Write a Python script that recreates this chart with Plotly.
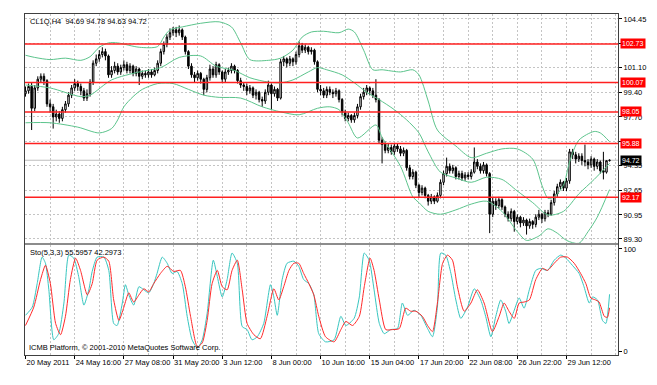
import plotly.graph_objects as go

# ---------------- data ----------------
bar_opens = [99.3,99.5,99.8,98.3,99.7,100.3,100.5,100.2,98.6,98.4,97.7,97.9,97.6,98.2,98.6,99.2,99.7,100.0,99.8,99.5,
 99.0,99.3,100.1,101.4,101.7,102.0,102.2,101.9,100.6,100.9,101.2,100.8,101.1,101.3,100.9,101.2,100.7,101.0,100.5,100.7,
 100.6,100.8,100.6,100.9,101.4,102.2,102.7,103.2,103.5,103.7,103.5,103.7,103.2,102.2,101.2,100.6,100.4,100.7,100.3,99.6,
 100.4,101.0,100.6,101.3,100.8,100.3,100.8,100.9,101.2,100.9,100.2,99.9,99.8,99.5,99.7,99.2,99.4,98.9,98.8,99.4,
 99.9,99.3,99.6,99.0,101.5,101.7,101.4,101.7,101.5,102.0,102.6,102.3,102.5,102.2,102.3,101.5,99.6,99.5,99.2,99.6,
 99.4,99.3,99.5,98.9,98.0,97.6,97.8,97.5,97.8,98.4,99.1,99.4,99.7,99.5,99.2,98.9,96.1,95.8,95.4,95.6,
 95.3,95.7,95.5,95.2,95.4,94.2,93.6,93.9,93.0,92.5,92.8,92.3,91.9,92.2,91.9,92.3,93.2,93.8,94.3,94.0,
 94.2,93.6,93.8,93.5,93.7,93.6,93.9,94.6,94.3,94.0,94.4,93.8,91.0,91.9,91.6,92.0,91.5,91.0,90.7,91.2,
 90.5,90.8,90.4,90.6,90.2,90.5,90.3,90.8,91.0,90.7,91.1,91.0,91.8,92.4,92.9,93.2,92.8,93.3,95.3,95.1,
 94.8,95.0,94.7,94.6,94.4,94.8,94.3,94.6,94.0,93.9,94.69]
bar_closes = [99.5,99.8,98.3,99.7,100.3,100.5,100.2,98.6,98.4,97.7,97.9,97.6,98.2,98.6,99.2,99.7,100.0,99.8,99.5,99.0,
 99.3,100.1,101.4,101.7,102.0,102.2,101.9,100.6,100.9,101.2,100.8,101.1,101.3,100.9,101.2,100.7,101.0,100.5,100.7,100.6,
 100.8,100.6,100.9,101.4,102.2,102.7,103.2,103.5,103.7,103.5,103.7,103.2,102.2,101.2,100.6,100.4,100.7,100.3,99.6,100.4,
 101.0,100.6,101.3,100.8,100.3,100.8,100.9,101.2,100.9,100.2,99.9,99.8,99.5,99.7,99.2,99.4,98.9,98.8,99.4,99.9,
 99.3,99.6,99.0,101.5,101.7,101.4,101.7,101.5,102.0,102.6,102.3,102.5,102.2,102.3,101.5,99.6,99.5,99.2,99.6,99.4,
 99.3,99.5,98.9,98.0,97.6,97.8,97.5,97.8,98.4,99.1,99.4,99.7,99.5,99.2,98.9,96.1,95.8,95.4,95.6,95.3,
 95.7,95.5,95.2,95.4,94.2,93.6,93.9,93.0,92.5,92.8,92.3,91.9,92.2,91.9,92.3,93.2,93.8,94.3,94.0,94.2,
 93.6,93.8,93.5,93.7,93.6,93.9,94.6,94.3,94.0,94.4,93.8,91.0,91.9,91.6,92.0,91.5,91.0,90.7,91.2,90.5,
 90.8,90.4,90.6,90.2,90.5,90.3,90.8,91.0,90.7,91.1,91.0,91.8,92.4,92.9,93.2,92.8,93.3,95.3,95.1,94.8,
 95.0,94.7,94.6,94.4,94.8,94.3,94.6,94.0,93.9,94.69,94.72]
bar_highs = [99.8,100.0,100.1,99.9,100.5,100.7,100.7,100.3,98.9,98.6,98.2,98.1,98.4,98.8,99.4,99.9,100.3,100.2,100.0,99.7,
 99.6,100.3,101.6,102.0,102.3,102.5,102.4,102.0,101.2,101.5,101.4,101.3,101.6,101.5,101.4,101.3,101.2,101.1,100.9,100.9,
 101.0,101.0,101.1,101.6,102.4,102.9,103.4,103.8,103.9,103.9,104.0,103.8,103.3,102.3,101.4,100.8,100.9,100.8,100.4,100.6,
 101.3,101.2,101.5,101.4,100.9,101.0,101.1,101.4,101.3,101.0,100.4,100.1,100.0,99.9,99.8,99.6,99.5,99.1,99.6,100.2,
 100.0,99.8,99.7,101.7,101.9,101.8,101.9,101.8,102.2,102.9,102.8,102.7,102.6,102.5,102.4,101.6,99.9,99.7,99.8,99.8,
 99.6,99.7,99.6,99.0,98.2,98.0,97.9,98.0,98.6,99.3,99.7,99.9,99.8,99.7,100.3,99.0,96.3,96.0,95.9,95.8,
 95.9,95.9,95.7,95.6,95.5,94.4,94.1,94.0,93.1,93.0,92.9,92.4,92.4,92.3,92.5,93.4,94.0,94.9,94.5,94.4,
 94.3,94.0,94.0,93.9,93.9,94.1,95.6,94.8,94.5,94.6,94.5,93.9,92.2,92.1,92.2,92.1,91.6,91.2,91.4,91.3,
 91.0,90.9,90.8,90.7,90.7,90.6,91.0,91.3,91.1,91.3,91.3,92.0,92.6,93.1,93.4,93.3,93.5,95.5,95.5,95.3,
 95.2,95.2,95.8,94.8,95.0,94.9,94.8,94.7,95.3,94.7,94.78]
bar_lows = [99.1,99.3,96.8,98.1,99.5,100.1,99.9,98.4,98.0,96.9,97.4,97.3,97.4,98.0,98.4,99.0,99.5,99.5,99.2,98.8,
 98.8,99.1,99.9,101.2,101.5,101.8,101.6,100.4,100.4,100.7,100.6,100.6,100.9,100.7,100.7,100.5,100.5,99.9,100.3,100.4,
 100.4,100.4,100.5,100.7,101.2,102.0,102.5,103.0,103.3,103.2,103.3,103.0,102.0,101.0,100.4,100.1,100.2,100.0,99.2,99.4,
 100.2,100.4,100.4,100.6,100.1,100.1,100.6,100.7,100.7,100.0,99.7,99.5,99.2,99.3,99.0,98.9,98.7,98.4,98.6,99.2,
 98.2,99.1,98.8,98.9,101.2,101.1,101.2,101.2,101.3,101.8,102.1,102.1,102.0,102.0,101.3,99.4,99.2,99.0,99.0,99.2,
 99.0,99.1,98.7,97.8,97.4,97.4,97.3,97.3,97.6,98.2,98.9,99.2,99.2,99.0,98.7,95.9,94.5,95.2,95.2,95.1,
 95.1,95.3,95.0,95.0,94.0,93.4,93.4,92.8,92.17,92.3,92.1,91.6,91.7,91.7,91.8,92.1,93.0,93.6,93.8,93.8,
 93.4,93.4,93.3,93.3,93.4,93.4,93.8,94.1,93.8,93.8,93.6,89.7,90.8,91.3,91.4,91.3,90.8,90.5,90.5,89.8,
 90.3,90.1,90.2,89.6,90.0,90.0,90.1,90.6,90.4,90.5,90.8,90.9,91.6,92.2,92.7,92.6,92.6,93.1,94.8,94.5,
 94.6,94.4,94.3,94.1,94.2,94.0,94.1,93.8,93.4,93.8,94.63]

bb_upper_bars = [0,3,8,13,18,21,24,27,30,37,43,45,47,51,57,63,67,70,73,79,83,87,90,93,97,102,105,107,110,113,116,122,126,128,131,134,140,145,150,155,160,165,168,170,172,175,177,180,185,187,190]
bb_upper = [101.95,101.8,101.65,101.75,101.6,101.85,102.5,102.8,102.8,102.5,102.55,103.2,103.7,103.9,104.15,104.25,103.9,102.8,101.65,101.6,101.75,102.3,103.2,103.55,103.6,103.5,103.75,103.55,102.3,100.95,100.95,100.8,100.95,100.6,98.8,96.8,95.7,94.9,95.2,95.5,95.5,94.8,93.0,92.1,92.2,93.0,94.6,96.1,96.7,96.6,96.0]
bb_mid_bars = [0,8,18,21,28,37,44,50,57,62,68,73,79,83,87,92,95,98,103,107,111,115,120,124,128,131,135,140,145,150,155,160,165,170,175,180,185,190]
bb_mid = [99.9,99.7,99.1,99.2,100.25,100.8,101.1,101.8,101.9,101.2,100.9,100.4,100.1,100.05,100.25,100.8,101.1,100.95,100.6,100.05,99.4,98.9,98.2,97.5,96.6,95.3,93.9,93.5,93.2,93.55,93.4,92.6,91.8,90.95,91.2,92.4,93.4,94.5]
bb_lower_bars = [0,8,17,24,28,30,32,35,38,43,48,53,58,63,70,77,83,89,95,99,102,105,108,114,116,122,126,128,131,135,140,145,150,155,160,163,167,170,173,176,180,183,186,190]
bb_lower = [97.3,97.3,97.0,96.6,96.9,97.5,98.4,99.1,99.6,100.0,100.0,99.6,99.2,99.05,99.0,98.4,98.05,97.85,98.3,98.4,98.2,97.3,96.25,97.15,96.3,94.3,92.2,91.8,91.2,91.0,91.3,91.7,91.9,91.2,89.8,89.2,89.5,90.0,89.7,89.2,89.0,89.8,90.8,92.7]

sto_main_bars = [0,2.2,3.8,5.4,6.5,7.6,9.2,10.8,12.5,14.1,15.7,17.3,19.0,20.6,21.7,23.3,25.5,27.1,28.7,29.8,31.5,32.5,33.6,35.2,36.9,38.5,40.1,41.7,42.8,44.5,46.1,47.7,49.3,51.0,52.6,54.2,55.9,57.5,59.1,61.1,62.4,64.0,65.6,67.2,68.9,70.5,72.1,73.7,75.4,77.5,79.7,80.8,81.9,83.5,85.1,87.3,88.9,90.5,92.2,93.8,95.4,97.6,100.4,102.6,104.2,106.9,108.6,110.2,111.8,113.4,115.1,116.7,118.8,121.0,122.6,124.3,126.4,128.6,130.8,132.4,134.0,135.1,136.7,138.4,140.0,141.6,143.8,146.0,148.1,149.7,151.4,153.0,154.6,156.2,157.3,159.0,160.6,162.2,163.9,166.0,167.6,169.8,172.0,174.1,175.8,177.9,180.1,181.7,183.4,184.5,186.1,187.7,188.8,190]
sto_main = [35,43,66,92,86,60,11,17,47,94,91,73,45,60,78,92,92,79,27,25,47,65,55,45,63,60,57,66,76,92,86,76,78,66,34,11,3,11,37,89,73,53,70,96,86,24,21,11,14,27,65,53,35,70,86,88,83,70,66,55,17,9,11,34,25,32,53,96,89,60,27,17,21,22,47,35,40,35,22,14,43,96,94,76,50,32,43,61,50,34,14,34,50,39,27,40,52,42,60,79,81,79,89,94,91,84,76,63,47,53,50,30,27,55.6]
sto_signal_bars = [0,2.7,4.9,6.5,8.1,9.8,11.4,13.0,14.6,16.3,17.9,20.1,21.7,23.3,25.5,27.1,28.7,30.4,32.0,33.6,35.2,36.9,38.5,40.1,41.7,43.9,46.1,48.2,50.4,52.0,53.7,55.9,57.5,59.1,60.7,62.4,64.0,65.6,67.2,68.9,70.5,72.1,74.3,76.4,78.6,80.8,82.4,84.0,85.7,87.3,88.9,90.5,92.2,93.8,95.4,97.6,100.4,102.6,104.2,106.4,108.6,110.2,112.1,113.4,115.1,117.2,119.4,121.6,123.7,125.3,127.0,129.1,130.8,132.4,134.0,135.7,137.3,138.9,140.5,142.7,144.9,147.0,149.2,151.9,154.1,155.7,157.3,159.0,160.6,162.2,163.9,166.0,168.2,169.8,172.0,174.1,176.3,178.5,180.6,182.3,183.9,185.5,186.6,188.3,189.3,190]
sto_signal = [25,43,70,84,66,27,16,34,70,91,79,55,66,89,92,88,50,30,43,57,48,55,61,58,66,76,83,78,79,63,34,4,8,30,66,79,63,60,79,89,60,27,16,12,34,61,50,63,79,86,86,76,66,55,34,14,9,21,29,25,34,63,91,79,50,21,21,22,42,39,39,34,25,19,47,86,94,89,63,39,47,60,47,19,34,47,39,32,47,48,50,70,81,79,86,92,92,86,76,66,52,50,48,34,33,42.3]

level_lines = [102.73, 100.07, 98.05, 95.88, 92.17]
level_labels = ["102.73", "100.07", "98.05", "95.88", "92.17"]
last_price = 94.72
last_label = "94.72"

price_ticks = [104.45, 102.78, 101.10, 99.40, 97.70, 96.03, 94.35, 92.65, 90.95, 89.30]
# labels fully hidden behind the level boxes in the reference are left blank
price_tick_text = ["104.45", "", "101.10", "99.40", "97.70", "", "94.35", "92.65", "90.95", "89.30"]
time_tick_bars = [0, 16, 32, 48, 64, 80, 96, 112, 128, 144, 160, 176]
time_tick_text = ["20 May 2011", "24 May 16:00", "27 May 08:00", "31 May 20:00", "3 Jun 12:00", "8 Jun 00:00",
                  "10 Jun 16:00", "15 Jun 04:00", "17 Jun 20:00", "22 Jun 08:00", "26 Jun 22:00", "29 Jun 12:00"]

title_text = "CL1Q,H4  94.69 94.78 94.63 94.72"
sto_text = "Sto(5,3,3) 55.5957 42.2973"
copyright_text = "ICMB Platform, © 2001-2010 MetaQuotes Software Corp."

# ---------------- styles ----------------
FONT = "Liberation Sans, Arial, sans-serif"
FS = 7.5
GRID = "#c4c4c4"
BAND = "#5cc48c"
x_range = [-0.16, 192.75]
MAIN_DOMAIN = [0.3284, 1]
SUB_DOMAIN = [0, 0.3226]

fig = go.Figure()

for bx, by in [(bb_upper_bars, bb_upper), (bb_mid_bars, bb_mid), (bb_lower_bars, bb_lower)]:
    fig.add_trace(go.Scatter(x=bx, y=by, mode="lines", line=dict(color=BAND, width=1, shape="spline", smoothing=0.8),
                             xaxis="x", yaxis="y", hoverinfo="skip", showlegend=False))

fig.add_trace(go.Candlestick(
    x=list(range(len(bar_closes))), open=bar_opens, high=bar_highs, low=bar_lows, close=bar_closes,
    increasing=dict(line=dict(color="black", width=1), fillcolor="white"),
    decreasing=dict(line=dict(color="black", width=1), fillcolor="black"),
    whiskerwidth=0, xaxis="x", yaxis="y", showlegend=False, hoverinfo="skip"))

fig.add_trace(go.Scatter(x=sto_main_bars, y=sto_main, mode="lines",
                         line=dict(color="#37c6c0", width=1, shape="spline", smoothing=0.6),
                         xaxis="x2", yaxis="y2", showlegend=False, hoverinfo="skip"))
fig.add_trace(go.Scatter(x=sto_signal_bars, y=sto_signal, mode="lines",
                         line=dict(color="#ff2a2a", width=1, shape="spline", smoothing=0.6),
                         xaxis="x2", yaxis="y2", showlegend=False, hoverinfo="skip"))

shapes = []
shapes.append(dict(type="line", xref="x domain", yref="y", x0=0, x1=1, y0=last_price, y1=last_price,
                   line=dict(color="#bdbdbd", width=1), layer="below"))
for lv in level_lines:
    shapes.append(dict(type="line", xref="x domain", yref="y", x0=0, x1=1, y0=lv, y1=lv,
                       line=dict(color="#ff2020", width=1.5), layer="above"))
# grey separator bar between the price window and the indicator window
shapes.append(dict(type="rect", xref="paper", yref="paper", x0=0, x1=1, y0=SUB_DOMAIN[1], y1=MAIN_DOMAIN[0],
                   fillcolor="#8c8c8c", line=dict(width=0), layer="above"))

annotations = []
for lv, lt in zip(level_lines, level_labels):
    annotations.append(dict(xref="paper", yref="y", x=1, y=lv, text=lt, showarrow=False, xanchor="left",
                            xshift=2, bgcolor="#ff0000", font=dict(color="white", size=7, family=FONT),
                            borderpad=1))
annotations.append(dict(xref="paper", yref="y", x=1, y=last_price, text=last_label, showarrow=False,
                        xanchor="left", xshift=2, bgcolor="#000000",
                        font=dict(color="white", size=7, family=FONT), borderpad=1))
annotations.append(dict(xref="paper", yref="paper", x=0, y=1, text=title_text, showarrow=False,
                        xanchor="left", yanchor="top", xshift=3, yshift=-1,
                        font=dict(color="black", size=FS, family=FONT)))
annotations.append(dict(xref="paper", yref="y2 domain", x=0, y=1, text=sto_text, showarrow=False,
                        xanchor="left", yanchor="top", xshift=3, yshift=-1,
                        font=dict(color="black", size=FS, family=FONT)))
annotations.append(dict(xref="paper", yref="y2 domain", x=0, y=0, text=copyright_text, showarrow=False,
                        xanchor="left", yanchor="bottom", xshift=2, yshift=1,
                        font=dict(color="black", size=FS, family=FONT)))

axis_common = dict(showline=True, mirror=True, linecolor="#404040", linewidth=1, zeroline=False, automargin=False)

fig.update_layout(
    width=657, height=385,
    margin=dict(l=25, r=39, t=14, b=30),
    paper_bgcolor="white", plot_bgcolor="white",
    font=dict(family=FONT, size=FS, color="black"),
    showlegend=False, hovermode=False,
    shapes=shapes, annotations=annotations,
    xaxis=dict(domain=[0, 1], anchor="y", range=x_range, showticklabels=False, ticks="",
               tickvals=time_tick_bars, showgrid=True, gridcolor=GRID, griddash="2px,2px", gridwidth=1,
               minor=dict(dtick=8, tick0=0, showgrid=True, gridcolor=GRID, griddash="2px,2px", gridwidth=1),
               rangeslider=dict(visible=False), **axis_common),
    yaxis=dict(domain=MAIN_DOMAIN, anchor="x", side="right", range=[89.02, 104.79],
               tickvals=price_ticks, ticktext=price_tick_text, ticks="outside", ticklen=3, tickcolor="black",
               showgrid=True, gridcolor=GRID, griddash="2px,2px", gridwidth=1, **axis_common),
    xaxis2=dict(domain=[0, 1], anchor="y2", matches="x", range=x_range,
                tickvals=time_tick_bars, ticktext=time_tick_text, ticks="outside", ticklen=3, tickcolor="black",
                ticklabelposition="outside right", tickangle=0,
                showgrid=True, gridcolor=GRID, griddash="2px,2px", gridwidth=1,
                minor=dict(dtick=8, tick0=0, showgrid=True, gridcolor=GRID, griddash="2px,2px", gridwidth=1),
                **axis_common),
    yaxis2=dict(domain=SUB_DOMAIN, anchor="x2", side="right", range=[-3.9, 103.9],
                tickvals=[0, 100], ticktext=["0", "100"], ticks="outside", ticklen=3, tickcolor="black",
                showgrid=False, **axis_common),
)

# remove the default page margin so the 657x385 figure sits at the window's top-left corner
fig.write_html("out.html", config={"displayModeBar": False},
               post_script="document.body.style.margin='0';document.body.style.overflow='hidden';")
